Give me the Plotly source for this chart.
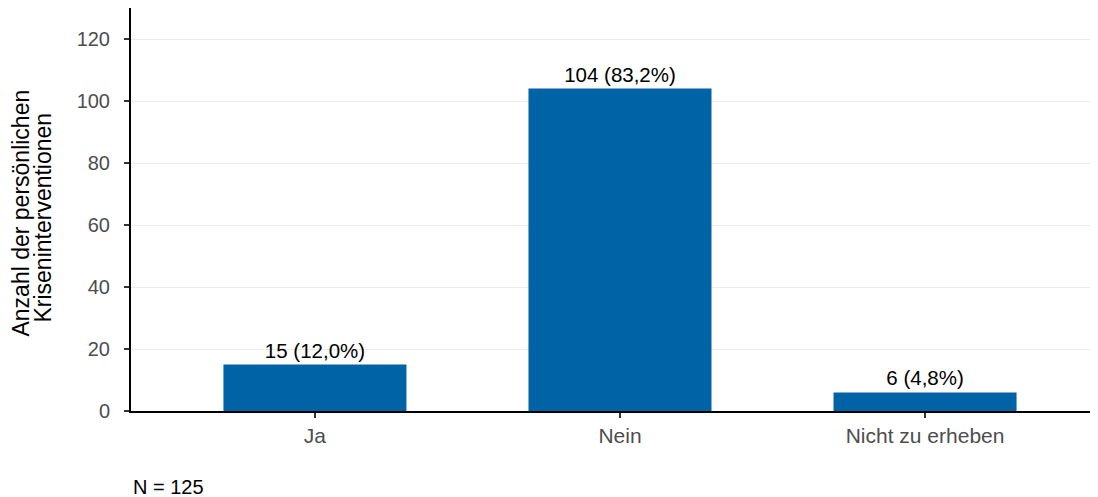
import plotly.graph_objects as go

categories = ["Ja", "Nein", "Nicht zu erheben"]
counts = [15, 104, 6]
percent_labels = ["12,0%", "83,2%", "4,8%"]
y_ticks = [0, 20, 40, 60, 80, 100, 120]
n_total = 125
y_title_lines = ["Anzahl der persönlichen", "Kriseninterventionen"]

labels = [f"{c} ({p})" for c, p in zip(counts, percent_labels)]

FONT = "Liberation Sans, Arial, sans-serif"
W, H = 1090, 489
ML, MB = 123, 86
PW, PH = W - ML, H - MB

fig = go.Figure(
    go.Bar(
        x=categories,
        y=counts,
        text=labels,
        textposition="outside",
        textfont=dict(family=FONT, size=20.5, color="black"),
        marker=dict(color="#0063a6", line=dict(width=0)),
        width=0.6,
        cliponaxis=False,
    )
)

fig.update_layout(
    width=W,
    height=H,
    margin=dict(l=ML, r=0, t=0, b=MB),
    paper_bgcolor="white",
    plot_bgcolor="white",
    font=dict(family=FONT, size=20, color="#4d4d4d"),
    showlegend=False,
)

fig.update_xaxes(
    type="category",
    range=[-0.603, 2.567],
    showline=True,
    linecolor="black",
    linewidth=2,
    ticks="outside",
    ticklen=5,
    tickwidth=2,
    tickcolor="#333333",
    tickfont=dict(family=FONT, size=21, color="#4d4d4d"),
    showgrid=False,
    zeroline=False,
)

fig.update_yaxes(
    range=[0, 130],
    tickvals=y_ticks,
    showline=True,
    linecolor="black",
    linewidth=2,
    ticks="outside",
    ticklen=5,
    tickwidth=2,
    tickcolor="#333333",
    tickfont=dict(family=FONT, size=20, color="#4d4d4d"),
    ticklabelstandoff=10,
    showgrid=True,
    gridcolor="#ebebeb",
    gridwidth=1,
    zeroline=False,
)

for line, px, yc in zip(y_title_lines, [13, 35], [0.49, 0.48]):
    fig.add_annotation(
        text=line,
        textangle=-90,
        xref="paper", yref="paper",
        x=(px - ML) / PW, y=yc,
        xanchor="center", yanchor="middle",
        showarrow=False,
        borderpad=0,
        font=dict(family=FONT, size=23, color="black"),
    )

fig.add_annotation(
    text=f"N = {n_total}",
    xref="paper", yref="paper",
    x=0, y=-76 / PH,
    xanchor="left", yanchor="middle",
    showarrow=False,
    font=dict(family=FONT, size=20, color="black"),
)

fig.write_html("out.html")
